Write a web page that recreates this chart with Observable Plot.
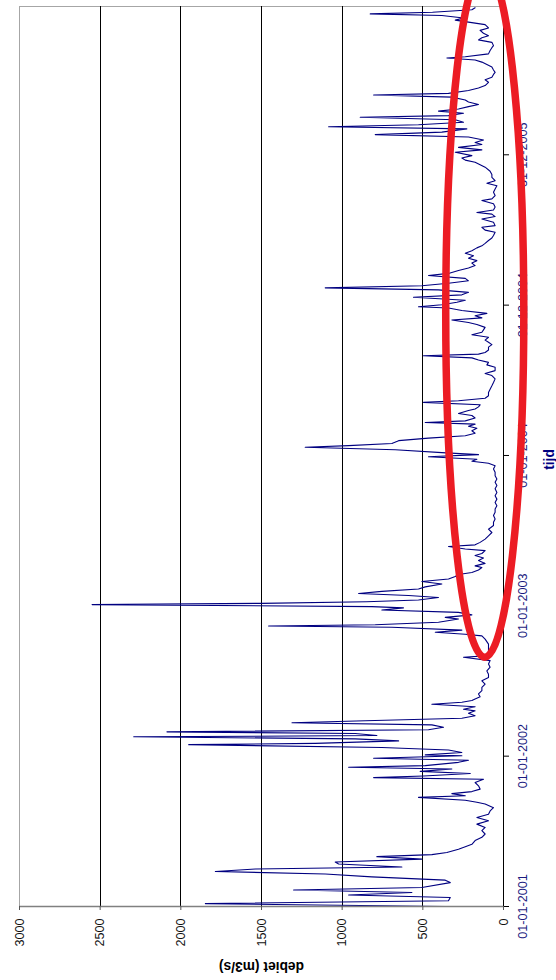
<!DOCTYPE html>
<html><head><meta charset="utf-8">
<script src="https://cdn.jsdelivr.net/npm/d3@7"></script>
<script src="https://cdn.jsdelivr.net/npm/@observablehq/plot@0.6"></script>
<style>html,body{margin:0;padding:0;background:#fff;} #chart svg{display:block;}</style>
</head><body><div id="chart"></div>
<script>
// readings: [days since 01-01-2001, debiet m3/s]
const readings2001 = [[0,361],[7,1848],[14,341],[22,330],[28,960],[34,568],[40,1301],[46,506],[58,330],[64,361],[72,816],[79,1105],[85,1786],[91,1538],[96,630],[103,1022],[108,1043],[115,506],[121,785],[126,444],[131,351],[139,279],[145,237],[151,196],[160,176],[168,134],[176,114],[184,134],[192,114],[200,165],[208,93],[216,165],[224,93],[232,83],[240,62],[249,114],[253,165],[258,237],[265,527],[269,237],[274,320],[279,196],[285,145],[293,155],[301,176],[309,124],[313,805],[317,496],[323,206],[328,516],[334,320],[338,960],[342,485],[350,279],[355,217],[360,805]];
const readings2002 = [[366,258],[368,485],[374,258],[380,341],[386,754],[393,1951],[396,1167],[402,650],[407,919],[412,2292],[415,785],[420,919],[424,2086],[429,465],[435,372],[441,444],[446,1311],[451,857],[457,258],[463,176],[469,217],[475,176],[479,248],[485,176],[491,444],[496,258],[500,196],[504,176],[509,145],[516,155],[524,134],[532,134],[540,114],[548,134],[556,93],[564,93],[572,103],[581,83],[589,93],[597,83],[605,248],[609,93],[621,93],[637,93],[649,114],[657,134],[661,237],[666,423],[671,258],[678,692],[681,1456],[684,795],[690,403],[698,279],[702,361],[708,196],[714,279],[720,754],[725,620],[728,816]];
const readings2003 = [[733,2550],[736,1500],[740,850],[744,527],[750,403],[755,589],[760,898],[765,754],[771,527],[776,485],[783,382],[789,506],[795,341],[801,299],[806,279],[811,196],[817,155],[823,134],[827,176],[833,114],[840,155],[846,124],[852,176],[857,134],[864,114],[868,237],[874,341],[878,176],[884,145],[892,114],[900,93],[908,72],[916,93],[925,62],[933,62],[941,52],[949,62],[957,52],[965,52],[973,41],[981,52],[989,41],[997,52],[1005,41],[1014,52],[1022,41],[1030,52],[1038,41],[1046,52],[1054,52],[1062,62],[1070,52],[1076,93],[1081,196],[1086,165],[1092,465]];
const readings2004 = [[1097,155],[1102,382],[1109,671],[1115,1229],[1119,960],[1124,692],[1131,650],[1137,465],[1143,237],[1149,176],[1155,196],[1161,165],[1166,217],[1171,176],[1175,485],[1179,237],[1186,176],[1192,196],[1197,279],[1204,217],[1208,176],[1213,155],[1218,145],[1224,496],[1228,279],[1234,114],[1240,93],[1248,93],[1256,83],[1264,72],[1272,62],[1281,52],[1289,72],[1294,114],[1301,52],[1309,52],[1315,103],[1321,93],[1327,155],[1332,196],[1337,496],[1341,155],[1345,114],[1351,93],[1358,93],[1364,72],[1370,93],[1375,114],[1382,93],[1388,196],[1394,134],[1400,124],[1406,114],[1413,165],[1418,217],[1424,320],[1429,134],[1434,176],[1440,103],[1447,258],[1453,341],[1456,527]];
const readings2005 = [[1461,382],[1467,289],[1472,237],[1479,558],[1485,258],[1491,217],[1497,403],[1502,1105],[1507,506],[1513,341],[1519,217],[1525,237],[1532,465],[1537,341],[1544,279],[1550,217],[1556,176],[1562,196],[1568,165],[1574,217],[1580,186],[1586,237],[1592,196],[1599,165],[1604,134],[1610,114],[1617,93],[1623,72],[1629,62],[1637,52],[1642,114],[1649,134],[1653,52],[1661,62],[1669,134],[1675,52],[1681,72],[1685,165],[1691,62],[1698,52],[1706,62],[1714,134],[1718,72],[1726,52],[1734,62],[1742,52],[1750,41],[1756,103],[1762,52],[1770,72],[1777,72],[1785,83],[1795,114],[1801,145],[1807,176],[1812,237],[1817,258],[1823,196]];
const readings2006 = [[1831,299],[1837,134],[1843,279],[1850,134],[1855,176],[1861,124],[1868,217],[1874,795],[1880,382],[1888,227],[1893,1084],[1898,527],[1904,248],[1910,299],[1916,888],[1920,341],[1926,248],[1931,403],[1936,279],[1942,217],[1947,155],[1953,217],[1958,237],[1965,320],[1970,805],[1974,341],[1981,217],[1987,155],[1993,114],[2001,93],[2007,114],[2013,72],[2020,62],[2025,52],[2031,62],[2038,72],[2044,103],[2050,134],[2055,176],[2060,351],[2063,237],[2070,93],[2078,83],[2085,72],[2090,62],[2098,72],[2104,155],[2109,134],[2114,93],[2120,124],[2127,145],[2133,93],[2141,114],[2147,217],[2152,299],[2157,248],[2163,382],[2167,826],[2171,440],[2177,196],[2182,176]];

const flowTicks = [0, 500, 1000, 1500, 2000, 2500, 3000];
const gridFlows = [500, 1000, 1500, 2000, 2500];
const dateTickLabels = ["01-01-2001", "01-01-2002", "01-01-2003", "01-01-2004", "31-12-2004", "31-12-2005"];
const seriesStart = "2001-01-01";
const axisEnd = "2006-12-26";
const flowTitle = "debiet (m3/s)";
const timeTitle = "tijd";
const circled = {flow: 113, date: "2004-12-13", flowRadius: 242, dayRadius: 838};

const parseISO = d3.utcParse("%Y-%m-%d");
const parseLabel = d3.utcParse("%d-%m-%Y");
const fmtLabel = d3.utcFormat("%d-%m-%Y");
const start = parseISO(seriesStart);
const series = [readings2001, readings2002, readings2003, readings2004, readings2005, readings2006]
  .flat().map(([d, v]) => ({date: d3.utcDay.offset(start, d), flow: v}));
const dateTicks = dateTickLabels.map(parseLabel);

function circleMark(index, scales) {
  const c = parseISO(circled.date);
  const cx = scales.x(circled.flow), cy = scales.y(c);
  const rx = Math.abs(scales.x(circled.flow + circled.flowRadius) - cx);
  const ry = Math.abs(scales.y(d3.utcDay.offset(c, circled.dayRadius)) - cy);
  const e = document.createElementNS("http://www.w3.org/2000/svg", "ellipse");
  e.setAttribute("cx", cx); e.setAttribute("cy", cy);
  e.setAttribute("rx", rx); e.setAttribute("ry", ry);
  e.setAttribute("fill", "none"); e.setAttribute("stroke", "#ec1c24");
  e.setAttribute("stroke-width", 7.5);
  return e;
}

const font = "'Liberation Sans', Arial, sans-serif";
const chart = Plot.plot({
  width: 556, height: 980,
  marginLeft: 19, marginRight: 53, marginTop: 6, marginBottom: 74,
  style: {fontFamily: font, background: "#fff"},
  x: {domain: [0, 3000], reverse: true, axis: null},
  y: {type: "utc", domain: [start, parseISO(axisEnd)], axis: null},
  marks: [
    Plot.frame({stroke: "#a6a6a6", shapeRendering: "crispEdges"}),
    Plot.ruleX(gridFlows, {stroke: "#000", strokeWidth: 1, shapeRendering: "crispEdges"}),
    Plot.lineX(series, {x: "flow", y: "date", stroke: "#000080", strokeWidth: 1.1}),
    Plot.ruleY([start], {stroke: "#808080", strokeWidth: 1.5}),
    Plot.ruleX([0], {stroke: "#000", strokeWidth: 1, shapeRendering: "crispEdges"}),
    Plot.axisX({ticks: flowTicks, tickSize: 4, tickPadding: 8, tickRotate: -90,
      textAnchor: "end", lineAnchor: "middle", label: null, fontSize: 12.6,
      stroke: "#555", fill: "#111", tickFormat: d => String(d)}),
    Plot.axisY({anchor: "right", ticks: dateTicks, tickSize: 5, tickPadding: 10, tickRotate: -90,
      textAnchor: "middle", lineAnchor: "top", label: null, fontSize: 12.6,
      stroke: "#000", fill: "#1a1a80", tickFormat: fmtLabel}),
    Plot.text([flowTitle], {frameAnchor: "bottom", dy: 60, rotate: 180, fontWeight: "bold",
      fontSize: 13.8, fill: "#000", textAnchor: "middle", lineAnchor: "middle"}),
    Plot.text([timeTitle], {frameAnchor: "right", dx: 46, dy: 3, rotate: -90, fontWeight: "bold",
      fontSize: 13.8, fill: "#000080", textAnchor: "middle", lineAnchor: "middle"}),
    circleMark
  ]
});
document.getElementById("chart").appendChild(chart);
</script>
</body></html>
